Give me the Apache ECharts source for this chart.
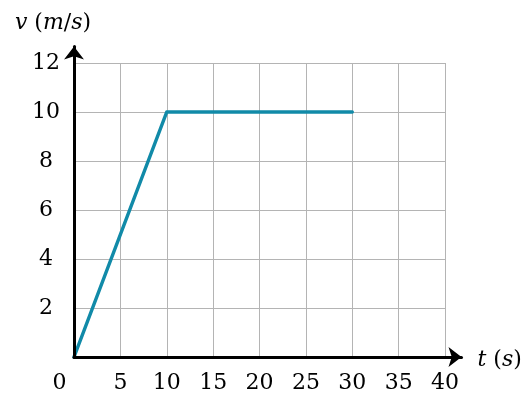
<!DOCTYPE html>
<html>
<head>
<meta charset="utf-8">
<script src="https://cdn.jsdelivr.net/npm/echarts@6/dist/echarts.min.js"></script>
<style>
  html, body { margin: 0; padding: 0; background: #ffffff; }
  #chart { width: 529px; height: 396px; }
</style>
</head>
<body>
<div id="chart"></div>
<script>
// Velocity–time graph: uniform acceleration, then constant speed.
const timeRange = [0, 40];      // t (s)
const timeStep = 5;
const speedRange = [0, 12];     // v (m/s)
const speedStep = 2;
const timeValues = [0, 10, 30];
const speedValues = [0, 10, 10];

const FONT = 'DejaVu Serif';
const INK = '#000000';
const SIZE = 22;

const chart = echarts.init(document.getElementById('chart'), null, { renderer: 'canvas' });

const italic = { fontStyle: 'italic', fontFamily: FONT, fontSize: SIZE, color: INK };

chart.setOption({
  backgroundColor: '#ffffff',
  animation: false,
  grid: [
    // plot area
    { left: 74, top: 63, width: 371, height: 294, containLabel: false },
    // area for the arrowed axis lines (slightly longer than the plot)
    { left: 74, top: 46.5, width: 387.5, height: 310.5, containLabel: false }
  ],
  xAxis: [
    {
      gridIndex: 0,
      type: 'value',
      min: timeRange[0],
      max: timeRange[1],
      interval: timeStep,
      axisLine: { show: false },
      axisTick: { show: false },
      splitLine: { show: true, lineStyle: { color: '#b4b4b4', width: 1 } },
      axisLabel: {
        margin: 26,
        verticalAlign: 'middle',
        fontFamily: FONT,
        fontSize: SIZE,
        color: INK,
        formatter: v => (v === 0 ? '{o|0}' : String(v)),
        rich: { o: { padding: [0, 29, 0, 0], fontFamily: FONT, fontSize: SIZE, color: INK } }
      }
    },
    {
      gridIndex: 1,
      type: 'value',
      min: 0,
      max: 1,
      z: 5,
      axisLine: {
        show: true,
        symbol: ['none', 'arrow'],
        symbolSize: [15, 13],
        lineStyle: { color: '#000000', width: 3 }
      },
      axisTick: { show: false },
      axisLabel: { show: false },
      splitLine: { show: false },
      name: '{i|t} ({i|s})',
      nameLocation: 'end',
      nameGap: 16,
      nameTextStyle: {
        fontFamily: FONT,
        fontSize: SIZE,
        color: INK,
        padding: [6, 0, 0, 0],
        rich: { i: italic }
      }
    }
  ],
  yAxis: [
    {
      gridIndex: 0,
      type: 'value',
      min: speedRange[0],
      max: speedRange[1],
      interval: speedStep,
      axisLine: { show: false },
      axisTick: { show: false },
      splitLine: { show: true, lineStyle: { color: '#b4b4b4', width: 1 } },
      axisLabel: {
        showMinLabel: false,
        align: 'center',
        margin: 28,
        fontFamily: FONT,
        fontSize: SIZE,
        color: INK
      }
    },
    {
      gridIndex: 1,
      type: 'value',
      min: 0,
      max: 1,
      z: 5,
      axisLine: {
        show: true,
        symbol: ['none', 'arrow'],
        symbolSize: [15, 13],
        lineStyle: { color: '#000000', width: 3 }
      },
      axisTick: { show: false },
      axisLabel: { show: false },
      splitLine: { show: false },
      name: '{i|v} ({i|m}/{i|s})',
      nameLocation: 'end',
      nameGap: 12,
      nameTextStyle: {
        fontFamily: FONT,
        fontSize: SIZE,
        color: INK,
        padding: [0, 42, 0, 0],
        rich: { i: italic }
      }
    }
  ],
  series: [
    {
      type: 'line',
      xAxisIndex: 0,
      yAxisIndex: 0,
      z: 4,
      data: timeValues.map((t, i) => [t, speedValues[i]]),
      symbol: 'none',
      lineStyle: { color: '#118aa8', width: 3.5, cap: 'round', join: 'round' }
    }
  ]
});
</script>
</body>
</html>
